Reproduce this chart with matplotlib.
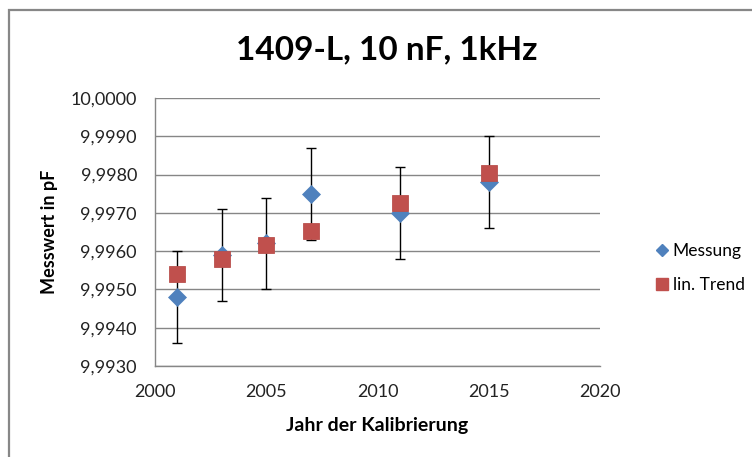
import matplotlib
matplotlib.use("Agg")
import matplotlib.pyplot as plt
from matplotlib.ticker import FuncFormatter, MultipleLocator
from matplotlib.lines import Line2D
from matplotlib.patches import Rectangle

plt.rcParams['font.family'] = ['Lato', 'DejaVu Sans']

years = [2001, 2003, 2005, 2007, 2011, 2015]
messung = [9.9948, 9.9959, 9.9962, 9.9975, 9.9970, 9.9978]
fehler = [0.0012, 0.0012, 0.0012, 0.0012, 0.0012, 0.0012]
trend = [9.9954, 9.9958, 9.99617, 9.99652, 9.99726, 9.99803]

title = "1409-L, 10 nF, 1kHz"
xlabel = "Jahr der Kalibrierung"
ylabel = "Messwert in pF"
legend_labels = ["Messung", "lin. Trend"]

blue = "#4F81BD"
red = "#C0504D"
grid = "#868686"

fig = plt.figure(figsize=(7.52, 4.57), dpi=100)
fig.patches.append(Rectangle((8.5/752, -0.1), 2.0, 1.1 - 10/457,
                             transform=fig.transFigure, fill=False,
                             edgecolor="#878787", linewidth=1.6, zorder=0))

ax = fig.add_axes([155/752, 1 - 366/457, 445/752, 268/457])
ax.set_xlim(2000, 2020)
ax.set_ylim(9.993, 10.0)
ax.xaxis.set_major_locator(MultipleLocator(5))
ax.yaxis.set_major_locator(MultipleLocator(0.001))
ax.yaxis.set_major_formatter(FuncFormatter(lambda v, p: f"{v:.4f}".replace(".", ",")))
ax.xaxis.set_major_formatter(FuncFormatter(lambda v, p: f"{int(round(v))}"))

ax.grid(axis='y', color=grid, linewidth=1.0)
ax.set_axisbelow(True)
for s in ['top', 'right']:
    ax.spines[s].set_visible(False)
for s in ['left', 'bottom']:
    ax.spines[s].set_color(grid)
    ax.spines[s].set_linewidth(1.0)
ax.tick_params(axis='y', length=0, labelsize=13, pad=13, labelcolor="#222222")
ax.tick_params(axis='x', length=0, labelsize=13, pad=13, labelcolor="#222222")

ax.errorbar(years, messung, yerr=fehler, fmt='none', ecolor='black',
            elinewidth=1.0, capsize=3.5, capthick=1.0, zorder=2)
ax.plot(years, messung, linestyle='none', marker='D', markersize=9.5,
        color=blue, markeredgecolor=blue, markeredgewidth=0.5, zorder=3)
ax.plot(years, trend, linestyle='none', marker='s', markersize=12,
        color=red, markeredgecolor="#B9504D", markeredgewidth=0.6, zorder=4)

fig.text(387/752, 1 - 50/457, title, ha='center', va='center',
         fontsize=24, fontweight='bold', color='black')
ax.set_xlabel(xlabel, fontsize=14, fontweight='bold')
ax.set_ylabel(ylabel, fontsize=13, fontweight='bold')
ax.xaxis.set_label_coords(0.5, (366 - 425) / 268)
ax.yaxis.set_label_coords((49 - 155) / 445, 0.5)
ax.xaxis.label.set_verticalalignment('center')
ax.yaxis.label.set_verticalalignment('center')

handles = [Line2D([], [], linestyle='none', marker='D', markersize=6, color=blue),
           Line2D([], [], linestyle='none', marker='s', markersize=8, color=red)]
fig.legend(handles, legend_labels, loc='center left',
           bbox_to_anchor=(650/752, 1 - 268/457), frameon=False,
           fontsize=12.5, handlelength=0.6, handletextpad=0.3, labelspacing=1.0,
           borderaxespad=0)

fig.savefig("out.png", dpi=100)
